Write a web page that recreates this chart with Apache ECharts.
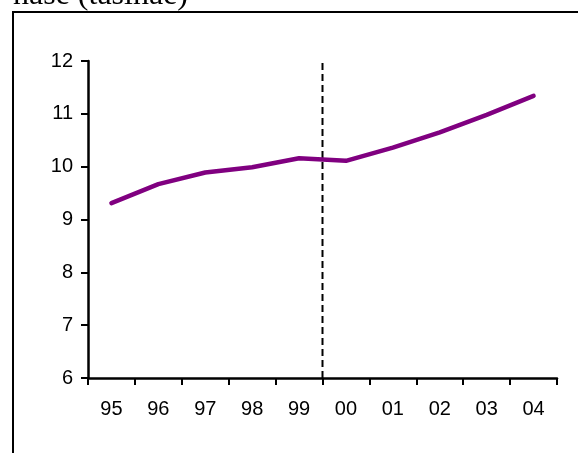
<!DOCTYPE html>
<html>
<head>
<meta charset="utf-8">
<script src="https://cdn.jsdelivr.net/npm/echarts@6/dist/echarts.min.js"></script>
<style>
  html, body { margin: 0; padding: 0; background: #fff; }
  #chart { width: 578px; height: 453px; }
</style>
</head>
<body>
<div id="chart"></div>
<script>
// Year labels along the category axis
const years = ['95', '96', '97', '98', '99', '00', '01', '02', '03', '04'];
// Index level per year
const values = [9.31, 9.67, 9.89, 9.99, 10.16, 10.11, 10.36, 10.65, 10.98, 11.34];
// Value axis range and step
const yMin = 6;
const yMax = 12;
const yStep = 1;
// The dashed divider sits at the start of this year
const dividerYear = '00';

const dividerPos = years.indexOf(dividerYear);
const font = '"Liberation Sans", Arial, sans-serif';

const chart = echarts.init(document.getElementById('chart'), null, { renderer: 'canvas' });
chart.setOption({
  animation: false,
  backgroundColor: '#ffffff',
  grid: { left: 88, right: 21, top: 61, bottom: 75, containLabel: false },
  xAxis: [
    {
      type: 'category',
      data: years,
      boundaryGap: true,
      axisLine: { lineStyle: { color: '#000', width: 2.5 } },
      axisTick: { show: true, length: 7, interval: 0, lineStyle: { color: '#000', width: 2 } },
      axisLabel: { color: '#000', fontSize: 20, fontFamily: font, margin: 21, interval: 0 },
      splitLine: { show: false }
    },
    {
      type: 'value',
      min: 0,
      max: years.length,
      show: false
    }
  ],
  yAxis: {
    type: 'value',
    min: yMin,
    max: yMax,
    interval: yStep,
    axisLine: { show: true, lineStyle: { color: '#000', width: 2.5 } },
    axisTick: { show: true, length: 7, lineStyle: { color: '#000', width: 2 } },
    axisLabel: { color: '#000', fontSize: 20, fontFamily: font, margin: 15 },
    splitLine: { show: false }
  },
  series: [
    {
      type: 'line',
      xAxisIndex: 1,
      data: [[dividerPos, yMin], [dividerPos, yMax]],
      symbol: 'none',
      silent: true,
      lineStyle: { color: '#000', width: 2, type: [7, 4] },
      z: 1
    },
    {
      type: 'line',
      xAxisIndex: 0,
      data: values,
      symbol: 'none',
      lineStyle: { color: '#800080', width: 4.5, cap: 'round', join: 'round' },
      z: 3
    }
  ],
  graphic: [
    {
      type: 'polyline',
      shape: { points: [[13, 453], [13, 12], [578, 12]] },
      style: { stroke: '#000', lineWidth: 2, fill: null },
      silent: true
    },
    {
      type: 'text',
      left: 13,
      top: -20,
      style: {
        text: 'nase (tasinae)',
        fill: '#000',
        font: '32px "Liberation Serif", "Times New Roman", serif'
      },
      silent: true
    }
  ]
});
</script>
</body>
</html>
